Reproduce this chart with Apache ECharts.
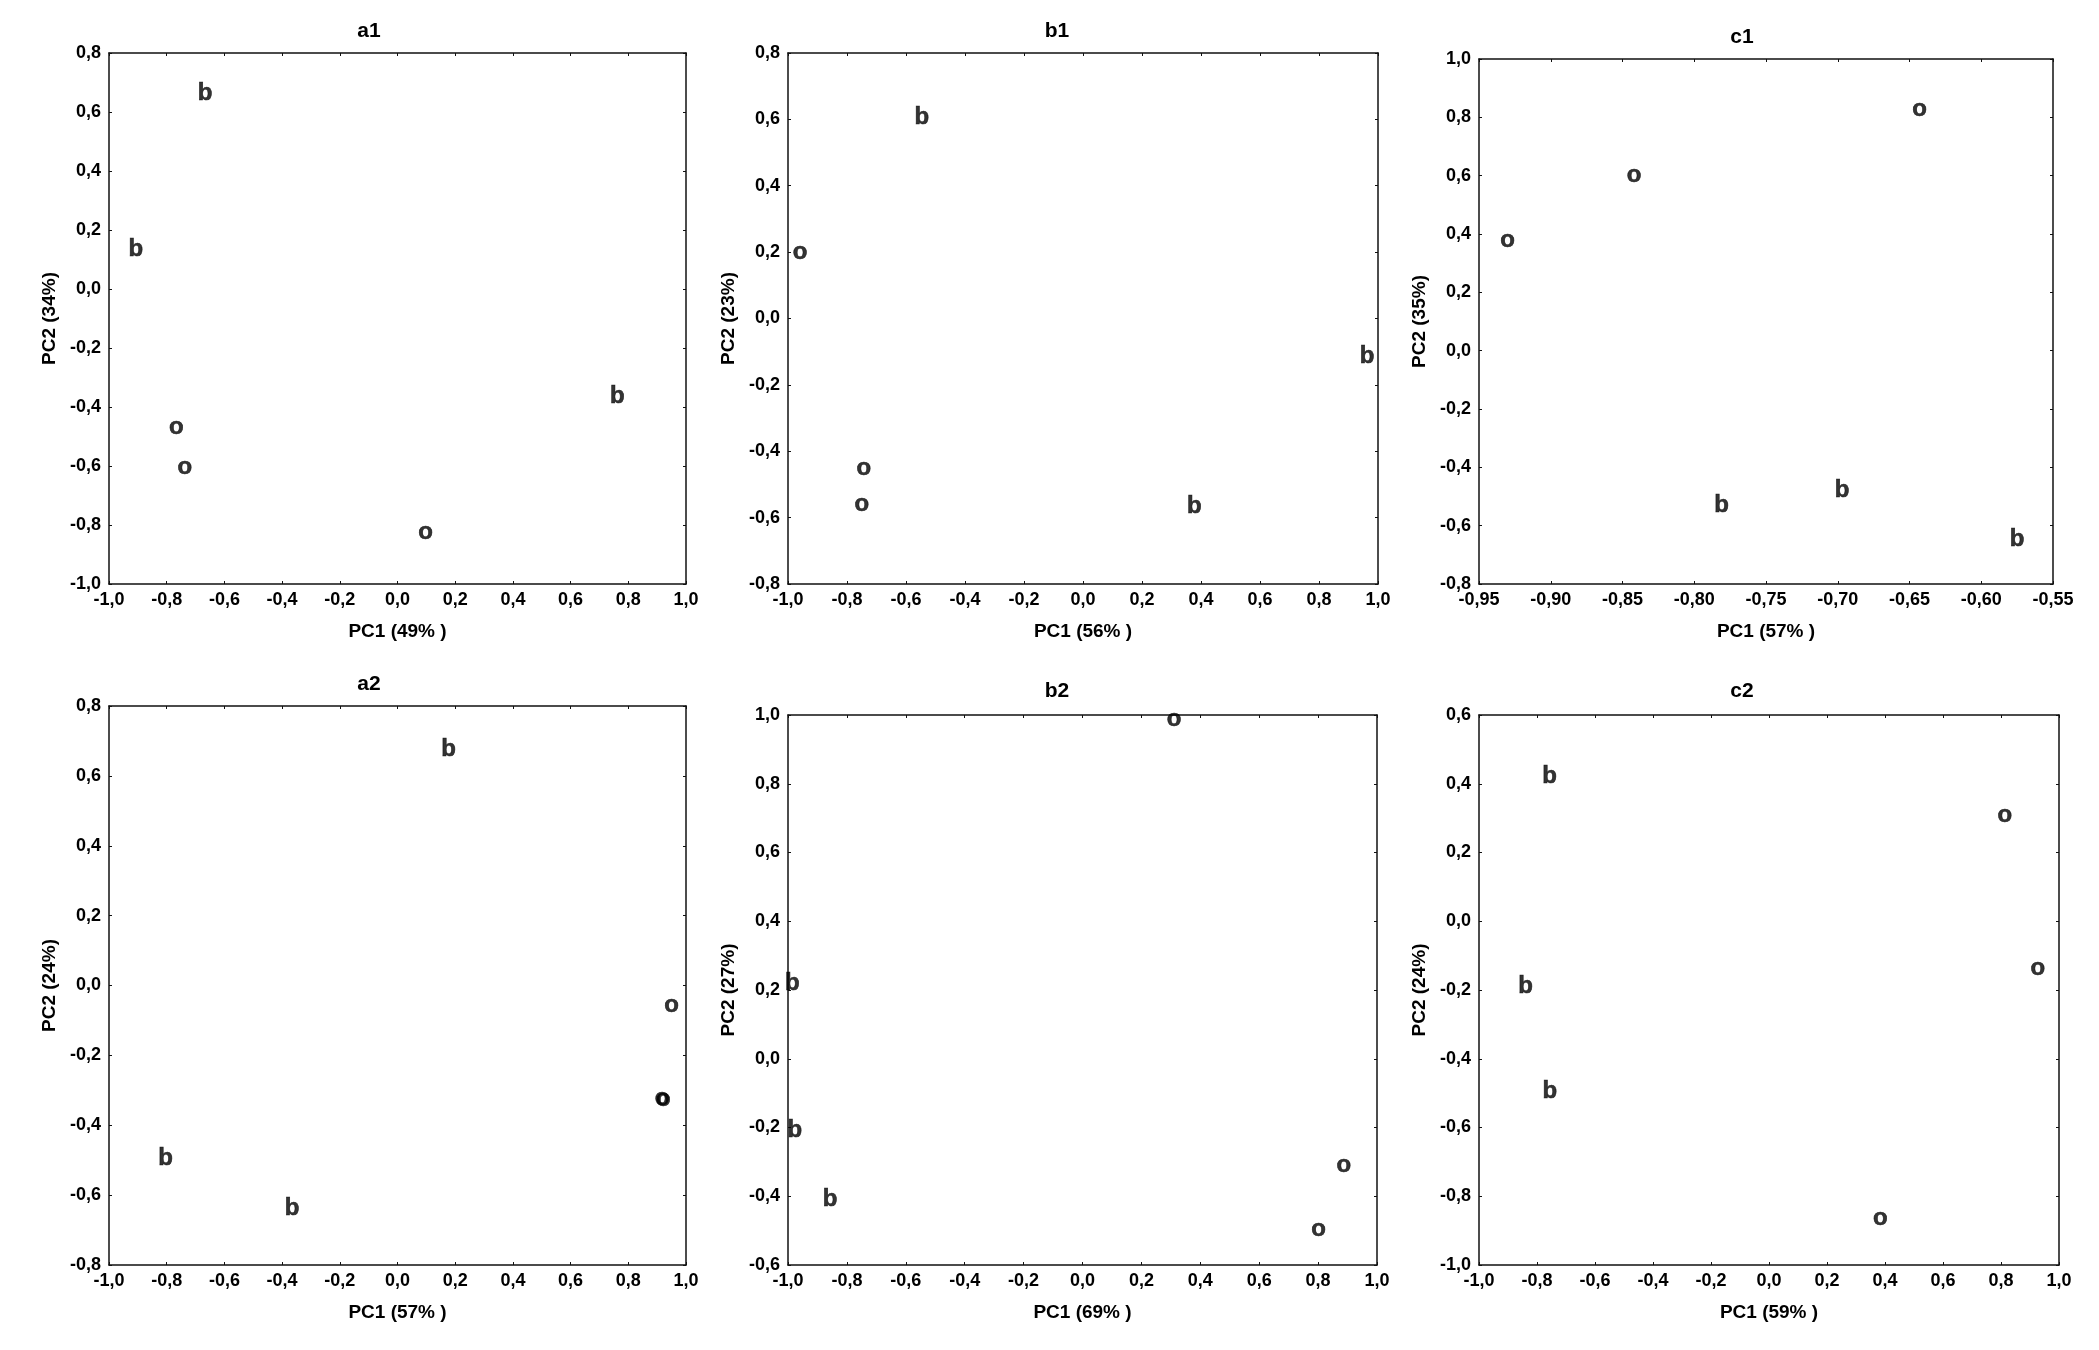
<!DOCTYPE html>
<html>
<head>
<meta charset="utf-8">
<script src="https://cdn.jsdelivr.net/npm/echarts@6/dist/echarts.min.js"></script>
<style>
html,body{margin:0;padding:0;background:#fff;}
#chart{width:2099px;height:1350px;}
</style>
</head>
<body>
<div id="chart"></div>
<script>
// ---- data ----
const panelTitles = ['a1','b1','c1','a2','b2','c2'];
const xNames = ['PC1 (49% )','PC1 (56% )','PC1 (57% )','PC1 (57% )','PC1 (69% )','PC1 (59% )'];
const yNames = ['PC2 (34%)','PC2 (23%)','PC2 (35%)','PC2 (24%)','PC2 (27%)','PC2 (24%)'];
const xRanges = [[-1,1,0.2],[-1,1,0.2],[-0.95,-0.55,0.05],[-1,1,0.2],[-1,1,0.2],[-1,1,0.2]];
const yRanges = [[-1,0.8,0.2],[-0.8,0.8,0.2],[-0.8,1,0.2],[-0.8,0.8,0.2],[-0.6,1,0.2],[-1,0.6,0.2]];
const xDecimals = [1,1,2,1,1,1];

const a1B = [[-0.667,0.664],[-0.907,0.134],[0.762,-0.363]];
const a1O = [[-0.767,-0.475],[-0.737,-0.611],[0.097,-0.831]];
const b1B = [[-0.546,0.605],[0.963,-0.114],[0.377,-0.565]];
const b1O = [[-0.959,0.193],[-0.743,-0.458],[-0.750,-0.566]];
const c1B = [[-0.781,-0.532],[-0.697,-0.480],[-0.575,-0.646]];
const c1O = [[-0.643,0.819],[-0.842,0.595],[-0.930,0.373]];
const a2B = [[0.177,0.677],[-0.804,-0.495],[-0.365,-0.639]];
const a2O = [[0.950,-0.064],[0.917,-0.330],[0.921,-0.333]];
const b2B = [[-0.985,0.219],[-0.977,-0.208],[-0.857,-0.410]];
const b2O = [[0.311,0.981],[0.887,-0.316],[0.802,-0.501]];
const c2B = [[-0.757,0.421],[-0.839,-0.188],[-0.756,-0.495]];
const c2O = [[0.813,0.303],[0.927,-0.142],[0.384,-0.869]];

const bSeries = [a1B,b1B,c1B,a2B,b2B,c2B];
const oSeries = [a1O,b1O,c1O,a2O,b2O,c2O];

// ---- layout ----
const grids = [
  {left:109, top:53, width:577, height:531},
  {left:788, top:53, width:590, height:531},
  {left:1479, top:59, width:574, height:525},
  {left:109, top:706, width:577, height:559},
  {left:788, top:715, width:589, height:550},
  {left:1479, top:715, width:580, height:550}
];
const titlePos = [
  {x:364, y:16},{x:1052, y:16},{x:1737, y:22},
  {x:364, y:669},{x:1052, y:676},{x:1737, y:676}
];

const FONT = '"Liberation Sans", Arial, sans-serif';
const AX = '#111';

function fmt(v, d){
  if (Math.abs(v) < 1e-9) v = 0;
  return v.toFixed(d).replace('.', ',');
}

const option = {
  backgroundColor:'#fff',
  animation:false,
  title:[], grid:[], xAxis:[], yAxis:[], series:[]
};

for (let i=0;i<6;i++){
  option.title.push({
    text: panelTitles[i], left: titlePos[i].x, top: titlePos[i].y, textAlign:'center',
    textStyle:{fontFamily:FONT, fontWeight:'bold', fontSize:21, color:'#000'}
  });
  option.grid.push(Object.assign({containLabel:false}, grids[i]));
  const xr = xRanges[i], yr = yRanges[i], d = xDecimals[i];
  const common = () => ({axisLine:{show:true, onZero:false, lineStyle:{color:AX, width:1.5}},
                  axisTick:{show:true, inside:true, length:3, lineStyle:{color:AX}},
                  splitLine:{show:false}});
  option.xAxis.push(Object.assign({
    type:'value', gridIndex:i, min:xr[0], max:xr[1], interval:xr[2], position:'bottom',
    name:xNames[i], nameLocation:'middle', nameGap:38,
    nameTextStyle:{fontFamily:FONT, fontWeight:'bold', fontSize:19, color:'#000'},
    axisLabel:{fontFamily:FONT, fontWeight:'bold', fontSize:18, color:'#000', margin:7,
               formatter:v=>fmt(v,d)}
  }, common()));
  option.xAxis.push(Object.assign({
    type:'value', gridIndex:i, min:xr[0], max:xr[1], interval:xr[2], position:'top',
    axisLabel:{show:false}
  }, common()));
  option.yAxis.push(Object.assign({
    type:'value', gridIndex:i, min:yr[0], max:yr[1], interval:yr[2], position:'left',
    name:yNames[i], nameLocation:'middle', nameGap:50, nameRotate:90,
    nameTextStyle:{fontFamily:FONT, fontWeight:'bold', fontSize:19, color:'#000'},
    axisLabel:{fontFamily:FONT, fontWeight:'bold', fontSize:18, color:'#000', margin:8,
               formatter:v=>fmt(v,1)}
  }, common()));
  option.yAxis.push(Object.assign({
    type:'value', gridIndex:i, min:yr[0], max:yr[1], interval:yr[2], position:'right',
    axisLabel:{show:false}
  }, common()));
  const mk = (data, letter, dy) => ({
    type:'scatter', xAxisIndex:2*i, yAxisIndex:2*i, data:data,
    symbolSize:1, itemStyle:{color:'rgba(255,255,255,0)'}, clip:false,
    label:{show:true, position:'inside', formatter:letter, offset:[0,dy],
           fontFamily:FONT, fontWeight:'bold', fontSize:24, color:'#000',
           textBorderColor:'#000', textBorderWidth:0.6}
  });
  option.series.push(mk(bSeries[i],'b',0));
  option.series.push(mk(oSeries[i],'o',-2));
}

const chart = echarts.init(document.getElementById('chart'), null, {renderer:'canvas'});
chart.setOption(option);
</script>
</body>
</html>
